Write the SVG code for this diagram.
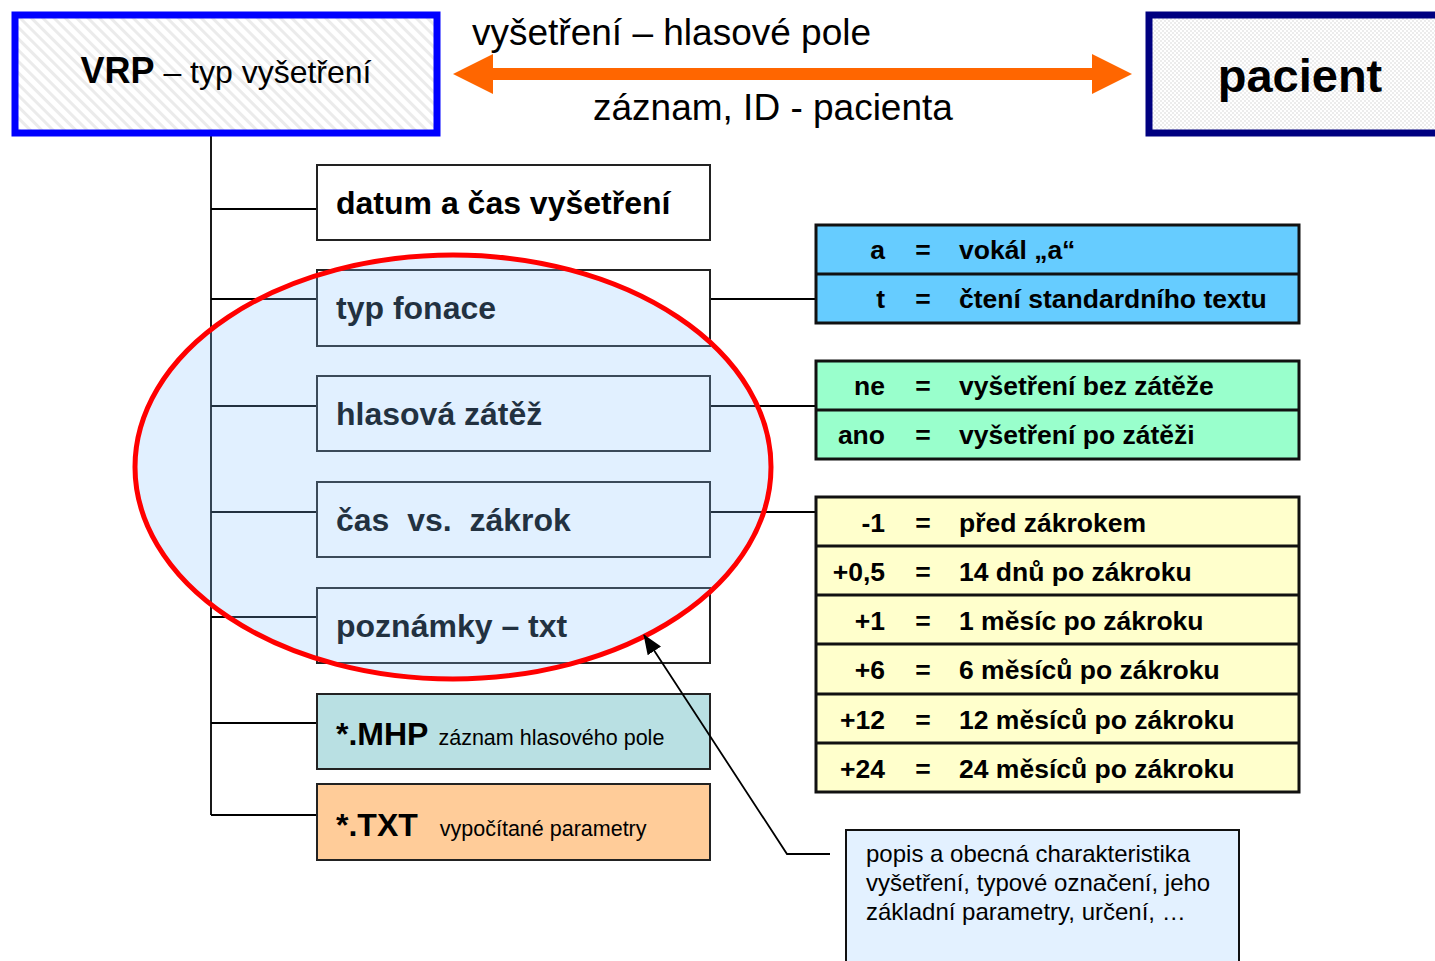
<svg xmlns="http://www.w3.org/2000/svg" width="1435" height="961" viewBox="0 0 1435 961">
<defs>
<pattern id="diag" width="8" height="8" patternUnits="userSpaceOnUse" patternTransform="rotate(-45)">
<rect width="8" height="8" fill="#ffffff"/>
<rect width="3" height="8" fill="#ebebeb"/>
</pattern>
<pattern id="cross" width="4" height="4" patternUnits="userSpaceOnUse">
<rect width="4" height="4" fill="#ffffff"/>
<rect width="2" height="2" fill="#ececec"/>
<rect x="2" y="2" width="2" height="2" fill="#ececec"/>
</pattern>
<marker id="ah2" viewBox="0 0 20 16" refX="19" refY="8" markerWidth="20" markerHeight="16" markerUnits="userSpaceOnUse" orient="auto">
<path d="M0,0 L20,8 L0,16 z" fill="#000"/>
</marker>
</defs>
<style>
text { font-family: "Liberation Sans", Arial, sans-serif; fill: #000; }
.b { font-weight: bold; }
.box { stroke: #222; stroke-width: 2; }
.tbl { stroke: #111; stroke-width: 3; }
.ln { stroke: #000; stroke-width: 1.8; fill: none; }
.lbl { font-size: 37px; }
.node { font-size: 32px; font-weight: bold; }
.t { font-size: 26.5px; font-weight: bold; }
.k { text-anchor: end; }
.eq { text-anchor: middle; }
.note { font-size: 24px; }
</style>

<g id="connectors">
<line class="ln" x1="211" y1="136" x2="211" y2="815"/>
<line class="ln" x1="211" y1="209" x2="317" y2="209"/>
<line class="ln" x1="211" y1="299" x2="317" y2="299"/>
<line class="ln" x1="211" y1="406" x2="317" y2="406"/>
<line class="ln" x1="211" y1="512" x2="317" y2="512"/>
<line class="ln" x1="211" y1="617" x2="317" y2="617"/>
<line class="ln" x1="211" y1="723" x2="317" y2="723"/>
<line class="ln" x1="211" y1="815" x2="317" y2="815"/>
<line class="ln" x1="710" y1="299" x2="816" y2="299"/>
<line class="ln" x1="710" y1="406" x2="816" y2="406"/>
<line class="ln" x1="710" y1="512" x2="816" y2="512"/>
<path id="exchange-arrow" d="M453,74 L493,54 L493,68 L1092,68 L1092,54 L1132,74 L1092,94 L1092,80 L493,80 L493,94 Z" fill="#FF6600"/>
</g>

<g id="vrp">
<rect x="15" y="15" width="422" height="118" fill="url(#diag)" stroke="#0000FF" stroke-width="7"/>
<text x="226" y="83" text-anchor="middle"><tspan class="b" font-size="36">VRP</tspan><tspan font-size="32"> – typ vyšetření</tspan></text>
</g>

<g id="pacient">
<rect x="1149" y="15" width="300" height="118" fill="url(#cross)" stroke="#000080" stroke-width="7"/>
<text x="1300" y="92" text-anchor="middle" class="b" font-size="47">pacient</text>
</g>

<g id="arrow-labels">
<text x="472" y="45" class="lbl">vyšetření – hlasové pole</text>
<text x="593" y="120" class="lbl">záznam, ID - pacienta</text>
</g>

<g id="datum">
<rect class="box" x="317" y="165" width="393" height="75" fill="#fff"/>
<text x="336" y="214" class="node">datum a čas vyšetření</text>
</g>
<g id="typ-fonace">
<rect class="box" x="317" y="270" width="393" height="76" fill="#fff"/>
<text x="336" y="319" class="node">typ fonace</text>
</g>
<g id="hlasova-zatez">
<rect class="box" x="317" y="376" width="393" height="75" fill="#fff"/>
<text x="336" y="425" class="node">hlasová zátěž</text>
</g>
<g id="cas-zakrok">
<rect class="box" x="317" y="482" width="393" height="75" fill="#fff"/>
<text x="336" y="531" class="node" xml:space="preserve">čas  vs.  zákrok</text>
</g>
<g id="poznamky">
<rect class="box" x="317" y="588" width="393" height="75" fill="#fff"/>
<text x="336" y="637" class="node">poznámky – txt</text>
</g>
<g id="mhp">
<rect class="box" x="317" y="694" width="393" height="75" fill="#B9E0E3"/>
<text x="336" y="745"><tspan class="b" font-size="32">*.MHP</tspan><tspan font-size="21.5" dx="10">záznam hlasového pole</tspan></text>
</g>
<g id="txt">
<rect class="box" x="317" y="784" width="393" height="76" fill="#FFCC99"/>
<text x="336" y="836"><tspan class="b" font-size="32">*.TXT</tspan><tspan font-size="21.5" dx="22">vypočítané parametry</tspan></text>
</g>

<g id="table-fonace">
<rect class="tbl" x="816" y="225" width="483" height="98" fill="#66CCFF"/>
<line class="tbl" x1="816" y1="274" x2="1299" y2="274"/>
<text x="885" y="259" class="t k">a</text><text x="923" y="259" class="t eq">=</text><text x="959" y="259" class="t">vokál „a“</text>
<text x="885" y="308" class="t k">t</text><text x="923" y="308" class="t eq">=</text><text x="959" y="308" class="t">čtení standardního textu</text>
</g>

<g id="table-zatez">
<rect class="tbl" x="816" y="361" width="483" height="98" fill="#99FFCC"/>
<line class="tbl" x1="816" y1="410" x2="1299" y2="410"/>
<text x="885" y="395" class="t k">ne</text><text x="923" y="395" class="t eq">=</text><text x="959" y="395" class="t">vyšetření bez zátěže</text>
<text x="885" y="444" class="t k">ano</text><text x="923" y="444" class="t eq">=</text><text x="959" y="444" class="t">vyšetření po zátěži</text>
</g>

<g id="table-cas">
<rect class="tbl" x="816" y="497" width="483" height="295" fill="#FFFFCC"/>
<line class="tbl" x1="816" y1="546" x2="1299" y2="546"/>
<line class="tbl" x1="816" y1="595" x2="1299" y2="595"/>
<line class="tbl" x1="816" y1="644" x2="1299" y2="644"/>
<line class="tbl" x1="816" y1="694" x2="1299" y2="694"/>
<line class="tbl" x1="816" y1="743" x2="1299" y2="743"/>
<text x="885" y="532" class="t k">-1</text><text x="923" y="532" class="t eq">=</text><text x="959" y="532" class="t">před zákrokem</text>
<text x="885" y="581" class="t k">+0,5</text><text x="923" y="581" class="t eq">=</text><text x="959" y="581" class="t">14 dnů po zákroku</text>
<text x="885" y="630" class="t k">+1</text><text x="923" y="630" class="t eq">=</text><text x="959" y="630" class="t">1 měsíc po zákroku</text>
<text x="885" y="679" class="t k">+6</text><text x="923" y="679" class="t eq">=</text><text x="959" y="679" class="t">6 měsíců po zákroku</text>
<text x="885" y="729" class="t k">+12</text><text x="923" y="729" class="t eq">=</text><text x="959" y="729" class="t">12 měsíců po zákroku</text>
<text x="885" y="778" class="t k">+24</text><text x="923" y="778" class="t eq">=</text><text x="959" y="778" class="t">24 měsíců po zákroku</text>
</g>

<g id="highlight-ellipse">
<ellipse cx="453" cy="467" rx="318" ry="212" fill="#89C4FF" fill-opacity="0.25" stroke="#FF0000" stroke-width="5"/>
</g>

<g id="note">
<rect x="846" y="830" width="393" height="140" fill="#E3F1FF" stroke="#111" stroke-width="2"/>
<text x="866" y="862" class="note">popis a obecná charakteristika</text>
<text x="866" y="891" class="note">vyšetření, typové označení, jeho</text>
<text x="866" y="920" class="note">základní parametry, určení, …</text>
</g>

<g id="note-connector">
<path d="M830,854 L787,854 L644,635" fill="none" stroke="#000" stroke-width="1.8" marker-end="url(#ah2)"/>
</g>
</svg>
